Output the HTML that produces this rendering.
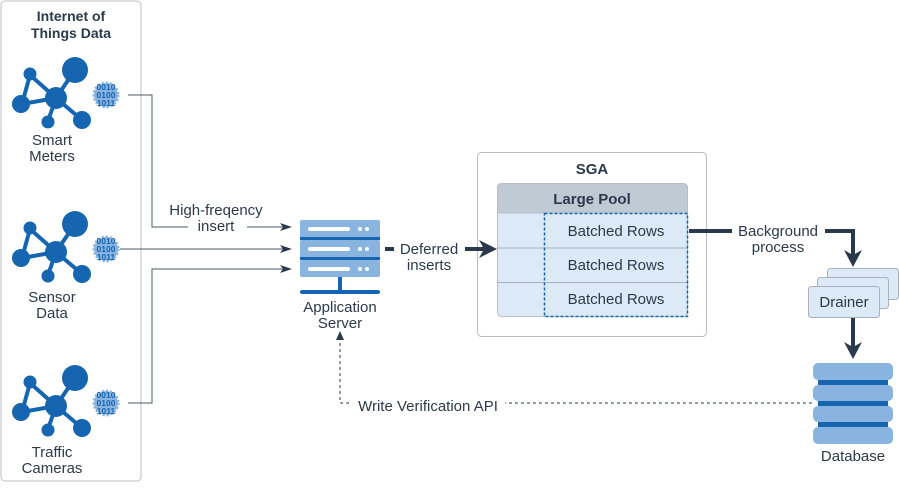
<!DOCTYPE html>
<html><head><meta charset="utf-8"><style>
body{margin:0;background:#fff}
svg text{font-family:"Liberation Sans",sans-serif;fill:#2a3a4c}
</style></head><body>
<svg width="899" height="483" viewBox="0 0 899 483" xmlns="http://www.w3.org/2000/svg">
<defs>
<g id="net">
<g stroke="#1565b0" stroke-width="4" fill="none">
<line x1="30" y1="75" x2="56" y2="98"/><line x1="30" y1="75" x2="22" y2="104"/><line x1="22" y1="104" x2="56" y2="98"/><line x1="56" y1="98" x2="75" y2="70"/><line x1="56" y1="98" x2="48" y2="121"/><line x1="56" y1="98" x2="82" y2="120"/>
</g>
<g fill="#1565b0"><circle cx="30" cy="74" r="6.5"/><circle cx="75" cy="70" r="13"/><circle cx="56" cy="98" r="11"/><circle cx="21" cy="104" r="9"/><circle cx="48" cy="122" r="6.5"/><circle cx="82" cy="120" r="9"/></g>
<circle cx="106" cy="95" r="12" fill="#8ab4e0" stroke="#8ab4e0" stroke-width="3" stroke-dasharray="2 2"/>
<text x="106" y="90" font-size="8.5" text-anchor="middle" style="fill:#1565b0;font-weight:bold">0010</text>
<text x="106" y="98" font-size="8.5" text-anchor="middle" style="fill:#1565b0;font-weight:bold">0100</text>
<text x="106" y="106" font-size="8.5" text-anchor="middle" style="fill:#1565b0;font-weight:bold">1011</text>
</g>
</defs>
<rect x="1" y="1" width="140" height="480" rx="4" fill="#fff" stroke="#b8bec6"/>
<text x="71" y="21" font-size="14" font-weight="bold" text-anchor="middle">Internet of</text>
<text x="71" y="38" font-size="14" font-weight="bold" text-anchor="middle">Things Data</text>
<use href="#net"/>
<use href="#net" y="154"/>
<use href="#net" y="308"/>
<g font-size="15" text-anchor="middle">
<text x="52" y="145">Smart</text><text x="52" y="161">Meters</text>
<text x="52" y="302">Sensor</text><text x="52" y="318">Data</text>
<text x="52" y="457">Traffic</text><text x="52" y="473">Cameras</text>
</g>
<g stroke="#4a5868" stroke-width="1" fill="none">
<path d="M128,95 H152 V227 H188 M247,227 H285"/>
<path d="M120,249 H285"/>
<path d="M128,403 H152 V269 H285"/>
</g>
<g fill="#2a3a4c">
<path d="M280,223 L292,227 L280,231 L283,227Z"/>
<path d="M280,245 L292,249 L280,253 L283,249Z"/>
<path d="M280,265 L292,269 L280,273 L283,269Z"/>
</g>
<g font-size="15" text-anchor="middle"><text x="216" y="215">High-freqency</text><text x="216" y="231">insert</text></g>
<g fill="#8ab4e0">
<rect x="300" y="220" width="80" height="18" rx="2"/><rect x="300" y="240" width="80" height="18" rx="2"/><rect x="300" y="260" width="80" height="17" rx="2"/>
</g>
<g fill="#1565b0"><rect x="300" y="237" width="80" height="3"/><rect x="300" y="257" width="80" height="3"/><rect x="338" y="277" width="4" height="14"/><rect x="300" y="290" width="80" height="4" rx="2"/></g>
<g fill="#fff"><rect x="308" y="227" width="42" height="4" rx="2"/><rect x="308" y="247" width="42" height="4" rx="2"/><rect x="308" y="267" width="42" height="4" rx="2"/>
<circle cx="360" cy="229" r="2"/><circle cx="367" cy="229" r="2"/><circle cx="360" cy="249" r="2"/><circle cx="367" cy="249" r="2"/><circle cx="360" cy="269" r="2"/><circle cx="367" cy="269" r="2"/></g>
<g font-size="15" text-anchor="middle"><text x="340" y="312">Application</text><text x="340" y="328">Server</text></g>
<rect x="385" y="247" width="9" height="4" fill="#2a3a4c"/>
<g font-size="15" text-anchor="middle"><text x="429" y="254">Deferred</text><text x="429" y="270">inserts</text></g>
<rect x="477.5" y="152.5" width="229" height="184" rx="4" fill="#fff" stroke="#b8bec6"/>
<path d="M465,249 H485" stroke="#2a3a4c" stroke-width="4"/>
<path d="M479,240 L497,249 L479,258 L484,249Z" fill="#2a3a4c"/>
<text x="592" y="174" font-size="15" font-weight="bold" text-anchor="middle">SGA</text>
<rect x="497.5" y="183.5" width="190" height="133" rx="4" fill="#dce9f6" stroke="#b8bec6"/>
<path d="M497.5,213 V187.5 a4,4 0 0 1 4,-4 H683.5 a4,4 0 0 1 4,4 V213Z" fill="#c0cad4" stroke="#b8bec6"/>
<text x="592" y="204" font-size="15" font-weight="bold" text-anchor="middle">Large Pool</text>
<g stroke="#a9b2bc"><line x1="498" y1="248" x2="687" y2="248"/><line x1="498" y1="282.5" x2="687" y2="282.5"/></g>
<rect x="544.5" y="213.5" width="143" height="103" fill="none" stroke="#1565b0" stroke-width="1.5" stroke-dasharray="3 2"/>
<g font-size="15" text-anchor="middle"><text x="616" y="236">Batched Rows</text><text x="616" y="270">Batched Rows</text><text x="616" y="304">Batched Rows</text></g>
<path d="M689,231 H732" stroke="#2a3a4c" stroke-width="4"/>
<g font-size="15" text-anchor="middle"><text x="778" y="236">Background</text><text x="778" y="252">process</text></g>
<path d="M825,231 H853 V256" stroke="#2a3a4c" stroke-width="4" fill="none"/>
<path d="M844,250 L853,267 L862,250 L853,255Z" fill="#2a3a4c"/>
<rect x="827.5" y="268.5" width="71" height="31" rx="3" fill="#dce9f6" stroke="#a9b2bc"/>
<rect x="817.5" y="277.5" width="71" height="31" rx="3" fill="#dce9f6" stroke="#a9b2bc"/>
<rect x="808.5" y="286.5" width="71" height="31" rx="3" fill="#dce9f6" stroke="#a9b2bc"/>
<text x="844" y="307" font-size="15" text-anchor="middle">Drainer</text>
<path d="M853,318 V348" stroke="#2a3a4c" stroke-width="4" fill="none"/>
<path d="M844,342 L853,359 L862,342 L853,347Z" fill="#2a3a4c"/>
<g fill="#1565b0"><rect x="818" y="372" width="70" height="64"/></g>
<g fill="#8ab4e0"><rect x="813" y="363" width="80" height="17" rx="5"/><rect x="813" y="385" width="80" height="16" rx="5"/><rect x="813" y="406" width="80" height="16" rx="5"/><rect x="813" y="427" width="80" height="17" rx="5"/></g>
<text x="853" y="461" font-size="15" text-anchor="middle">Database</text>
<path d="M812,403 H505 M349,403 H340 V340" stroke="#2a3a4c" stroke-width="1" stroke-dasharray="3 3" fill="none"/>
<path d="M336,340 L340,331 L344,340Z" fill="#2a3a4c"/>
<text x="428" y="411" font-size="15" text-anchor="middle">Write Verification API</text>
</svg>
</body></html>
